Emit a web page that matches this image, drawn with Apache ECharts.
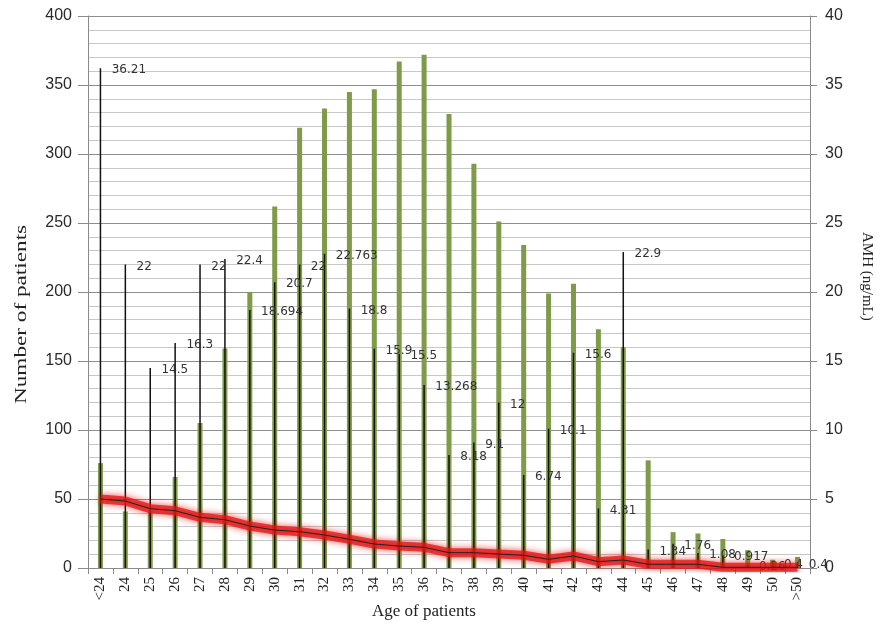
<!DOCTYPE html>
<html>
<head>
<meta charset="utf-8">
<script src="https://cdn.jsdelivr.net/npm/echarts@6/dist/echarts.min.js"></script>
<style>
html,body{margin:0;padding:0;background:#fff;}
#chart{width:881px;height:628px;}
</style>
</head>
<body>
<div id="chart"></div>
<script>
const categories = ['<24','24','25','26','27','28','29','30','31','32','33','34','35','36','37','38','39','40','41','42','43','44','45','46','47','48','49','50','>50'];
const patients = [76, 41, 41, 66, 105, 159, 200, 262, 319, 333, 345, 347, 367, 372, 329, 293, 251, 234, 199, 206, 173, 160, 78, 26, 25, 21, 13, 6, 8];
const amhMax = [36.21, 22, 14.5, 16.3, 22, 22.4, 18.694, 20.7, 22, 22.763, 18.8, 15.9, 15.5, 13.268, 8.18, 9.1, 12, 6.74, 10.1, 15.6, 4.31, 22.9, 1.34, 1.76, 1.08, 0.917, 0.26, 0.4, 0.4];
const amhLow = [5.0, 4.85, 4.3, 4.15, 3.67, 3.5, 3.04, 2.75, 2.63, 2.39, 2.08, 1.74, 1.59, 1.5, 1.11, 1.11, 1.01, 0.92, 0.63, 0.87, 0.46, 0.58, 0.27, 0.27, 0.27, 0.05, 0.05, 0.05, 0.05];
const leftTicks = [0, 400, 50];
const rightTicks = [0, 40, 5];

const chart = echarts.init(document.getElementById('chart'), null, {renderer: 'canvas'});
const serif = 'Liberation Serif';
const sans = 'Liberation Sans';

chart.setOption({
  animation: false,
  backgroundColor: '#fff',
  grid: {left: 88, right: 71, top: 16, bottom: 60, containLabel: false},
  xAxis: [
    {
      type: 'category', data: categories, boundaryGap: true,
      axisLine: {show: true, lineStyle: {color: '#8a8a8a', width: 1}},
      axisTick: {show: true, interval: 0, length: 6, lineStyle: {color: '#8a8a8a'}},
      axisLabel: {interval: 0, rotate: 90, margin: 9, fontFamily: serif, fontSize: 15, color: '#222'},
      splitLine: {show: false}
    },
    {
      type: 'category', data: categories, boundaryGap: true, show: false,
      axisLine: {show: false}, axisTick: {show: false}, axisLabel: {show: false}
    }
  ],
  yAxis: [
    {
      type: 'value', min: leftTicks[0], max: leftTicks[1], interval: leftTicks[2], position: 'left',
      axisLine: {show: true, lineStyle: {color: '#8a8a8a'}},
      axisTick: {show: true, length: 10, lineStyle: {color: '#8a8a8a'}},
      axisLabel: {margin: 16, fontFamily: sans, fontSize: 16, color: '#2a2a2a'},
      splitLine: {show: true, lineStyle: {color: '#8e8e8e', width: 1}},
      minorTick: {show: false, splitNumber: 5},
      minorSplitLine: {show: true, lineStyle: {color: '#c8c8c8', width: 1}}
    },
    {
      type: 'value', min: rightTicks[0], max: rightTicks[1], interval: rightTicks[2], position: 'right',
      axisLine: {show: true, lineStyle: {color: '#8a8a8a'}},
      axisTick: {show: true, length: 7, lineStyle: {color: '#8a8a8a'}},
      axisLabel: {margin: 15, fontFamily: sans, fontSize: 16, color: '#2a2a2a'},
      splitLine: {show: false}
    }
  ],
  graphic: [
    {type: 'text', left: 372, top: 603, style: {text: 'Age of patients', font: '17px "Liberation Serif"', fill: '#222'}},
    {type: 'text', x: 14, y: 404, rotation: Math.PI / 2, scaleX: 1.45,
     style: {text: 'Number of patients', font: '16px "Liberation Serif"', fill: '#222'}},
    {type: 'text', x: 874, y: 232, rotation: -Math.PI / 2,
     style: {text: 'AMH (ng/mL)', font: '15px "Liberation Serif"', fill: '#222'}}
  ],
  series: [
    {
      name: 'Number of patients', type: 'bar', xAxisIndex: 0, yAxisIndex: 0,
      data: patients, barWidth: 5,
      itemStyle: {color: '#7f9a48'}
    },
    {
      name: 'AMH max', type: 'bar', xAxisIndex: 1, yAxisIndex: 1,
      data: amhMax, barWidth: 1.5,
      itemStyle: {color: '#111'},
      label: {show: true, position: [12, 2], align: 'left', verticalAlign: 'middle',
              fontFamily: 'DejaVu Sans', fontSize: 12, color: '#333'}
    },
    {
      name: 'AMH glow', type: 'line', xAxisIndex: 0, yAxisIndex: 1,
      data: amhLow, symbol: 'none', smooth: false,
      lineStyle: {color: 'rgba(225,20,20,0.75)', width: 9, shadowColor: 'rgba(230,0,0,0.9)', shadowBlur: 7},
      z: 3
    },
    {
      name: 'AMH', type: 'line', xAxisIndex: 0, yAxisIndex: 1,
      data: amhLow, symbol: 'none',
      lineStyle: {color: '#222', width: 1},
      z: 4
    }
  ]
});
</script>
</body>
</html>
